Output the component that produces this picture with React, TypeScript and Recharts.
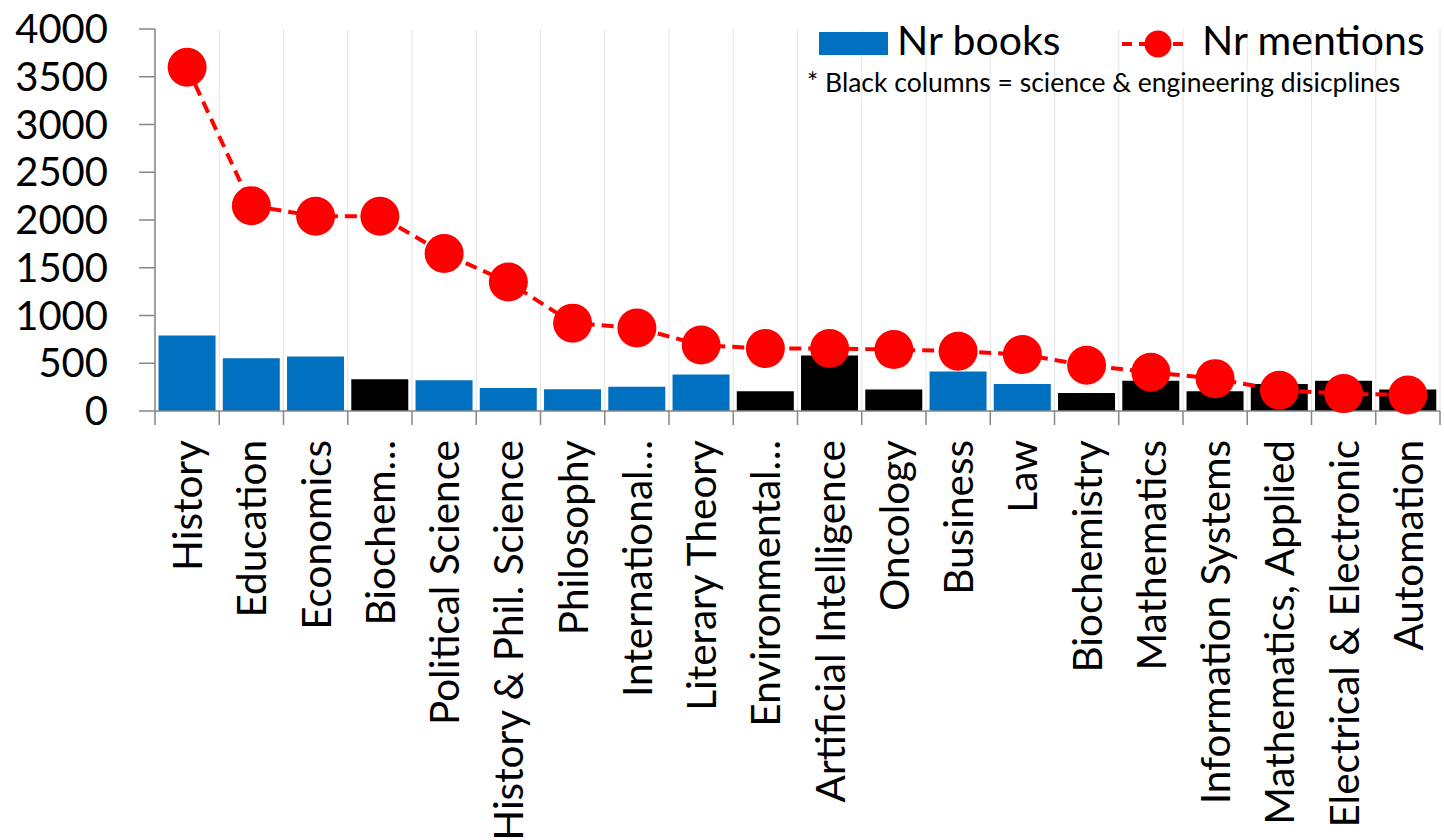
import { Bar, CartesianGrid, Cell, ComposedChart, Legend, Line, XAxis, YAxis } from 'recharts';

const categories = [
  'History',
  'Education',
  'Economics',
  'Biochem…',
  'Political Science',
  'History & Phil. Science',
  'Philosophy',
  'International…',
  'Literary Theory',
  'Environmental…',
  'Artificial Intelligence',
  'Oncology',
  'Business',
  'Law',
  'Biochemistry',
  'Mathematics',
  'Information Systems',
  'Mathematics, Applied',
  'Electrical & Electronic',
  'Automation',
];
const nrBooks = [790, 552, 570, 332, 322, 241, 227, 255, 381, 206, 580, 224, 413, 283, 189, 318, 206, 283, 318, 224];
const nrMentions = [3600, 2150, 2040, 2040, 1650, 1350, 920, 870, 690, 654, 654, 643, 626, 591, 479, 406, 339, 217, 182, 168];
// science & engineering disciplines get black columns
const isScience = [false, false, false, true, false, false, false, false, false, true, true, true, false, false, true, true, true, true, true, true];
const yTicks = [0, 500, 1000, 1500, 2000, 2500, 3000, 3500, 4000];

const BLUE = '#0070C0';
const RED = '#FF0000';
const AXIS = '#868686';

const data = categories.map((name, i) => ({
  name,
  books: nrBooks[i],
  mentions: nrMentions[i],
  science: isScience[i],
}));

const XTick = (props: any) => {
  const { x, y, payload, index } = props;
  const half = payload?.offset || 32;
  const last = index === categories.length - 1;
  return (
    <g>
      <line x1={x - half} x2={x - half} y1={y} y2={y + 14} stroke={AXIS} strokeWidth={1.5} />
      {last && <line x1={x + half} x2={x + half} y1={y} y2={y + 14} stroke={AXIS} strokeWidth={1.5} />}
      <text
        transform={`translate(${x + 15},${y + 29}) rotate(-90)`}
        textAnchor="end"
        fontSize={40.5}
        fill="#000"
      >
        {payload.value}
      </text>
    </g>
  );
};

const LegendBox = () => (
  <svg width={644} height={110} style={{ display: 'block' }}>
    <rect x={19} y={32} width={69} height={23} fill={BLUE} />
    <text x={97} y={55} fontSize={41} fill="#000">Nr books</text>
    <line x1={322} x2={390} y1={44} y2={44} stroke={RED} strokeWidth={4} strokeDasharray="10 7" />
    <circle cx={358} cy={44} r={13.5} fill={RED} />
    <text x={402} y={55} fontSize={41} fill="#000">Nr mentions</text>
    <text x={7} y={92} fontSize={26.5} fill="#000">* Black columns = science &amp; engineering disicplines</text>
  </svg>
);

export default function App() {
  return (
    <div style={{ position: 'absolute', left: 0, top: 0, width: 1444, height: 840, background: '#fff', fontFamily: 'Lato, sans-serif' }}>
      <ComposedChart width={1444} height={840} data={data} margin={{ top: 29, right: 4, left: 0, bottom: 0 }} barCategoryGap="5.5%">
        <CartesianGrid
          horizontal={false}
          stroke="#E4E4E4"
          verticalCoordinatesGenerator={({ offset }: any) =>
            Array.from({ length: categories.length + 1 }, (_, i) => offset.left + (i * offset.width) / categories.length)
          }
        />
        <XAxis
          dataKey="name"
          interval={0}
          height={429}
          tickLine={false}
          tickSize={0}
          tickMargin={0}
          axisLine={{ stroke: AXIS, strokeWidth: 1.5 }}
          tick={<XTick />}
        />
        <YAxis
          width={155}
          domain={[0, 4000]}
          ticks={yTicks}
          interval={0}
          tickSize={16}
          tickMargin={31}
          axisLine={{ stroke: AXIS, strokeWidth: 1.5 }}
          tickLine={{ stroke: AXIS, strokeWidth: 1.5 }}
          tick={{ fontSize: 40, fill: '#000' }}
        />
        <Legend
          content={<LegendBox />}
          layout="horizontal"
          verticalAlign="middle"
          align="center"
          wrapperStyle={{ top: 0, left: 800, width: 644, height: 110 }}
        />
        <Bar dataKey="books" name="Nr books" fill={BLUE} isAnimationActive={false}>
          {data.map((d, i) => (
            <Cell key={i} fill={d.science ? '#000000' : BLUE} />
          ))}
        </Bar>
        <Line
          type="linear"
          dataKey="mentions"
          name="Nr mentions"
          stroke={RED}
          strokeWidth={4}
          strokeDasharray="12 7"
          dot={{ r: 19.5, fill: RED, stroke: RED, strokeWidth: 0, strokeDasharray: '' }}
          activeDot={false}
          isAnimationActive={false}
        />
      </ComposedChart>
    </div>
  );
}
